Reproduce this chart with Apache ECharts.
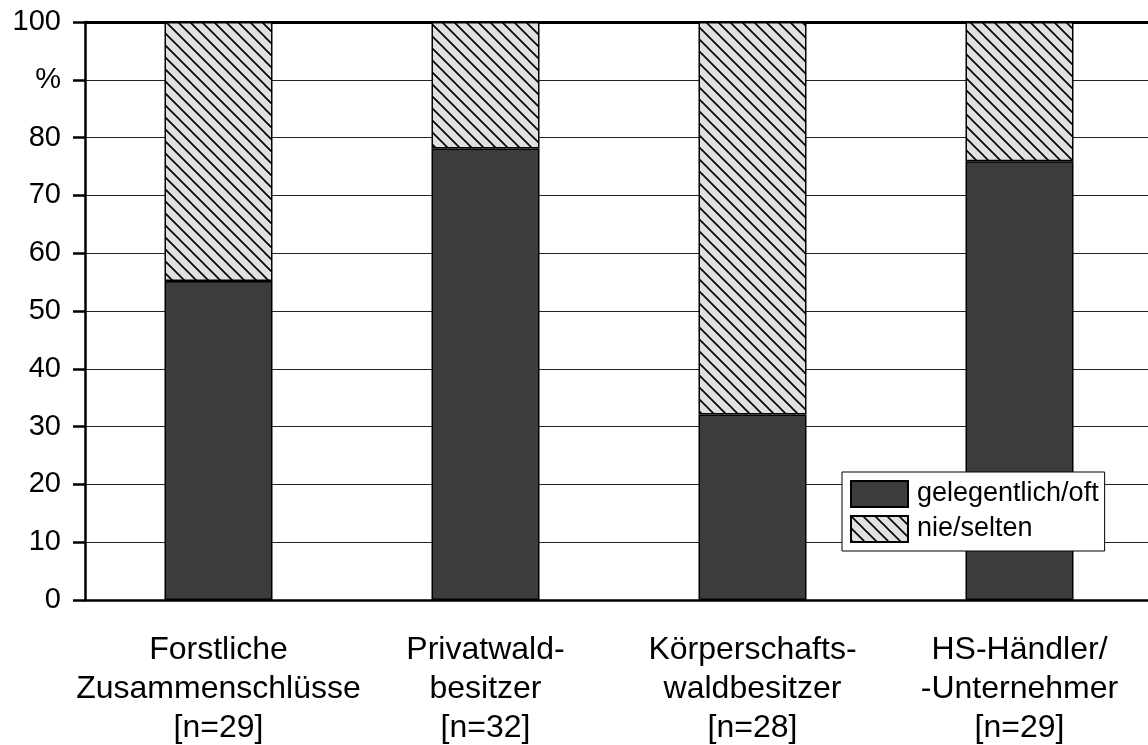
<!DOCTYPE html>
<html>
<head>
    <meta charset="utf-8">
    <title>Chart</title>
    <script src="https://cdn.jsdelivr.net/npm/echarts@6/dist/echarts.min.js"></script>
    <style>
        html, body { margin: 0; padding: 0; background: #fff; }
        #chart { width: 1148px; height: 745px; }
    </style>
</head>
<body>
<div id="chart"></div>
<script type="text/javascript">
    // Daten
    var categories = [
        'Forstliche\nZusammenschlüsse\n[n=29]',
        'Privatwald-\nbesitzer\n[n=32]',
        'Körperschafts-\nwaldbesitzer\n[n=28]',
        'HS-Händler/\n-Unternehmer\n[n=29]'
    ];
    var oftValues = [55.2, 78.1, 32.1, 75.9];
    var seltenValues = [44.8, 21.9, 67.9, 24.1];
    var seriesNames = ['gelegentlich/oft', 'nie/selten'];

    // Schraffur als Muster
    var pat = document.createElement('canvas');
    pat.width = 12;
    pat.height = 12;
    var ctx = pat.getContext('2d');
    ctx.fillStyle = '#e0e0e0';
    ctx.fillRect(0, 0, 12, 12);
    ctx.strokeStyle = '#000';
    ctx.lineWidth = 1.6;
    ctx.beginPath();
    ctx.moveTo(-2, -2); ctx.lineTo(14, 14);
    ctx.moveTo(-2, 10); ctx.lineTo(2, 14);
    ctx.moveTo(10, -2); ctx.lineTo(14, 2);
    ctx.stroke();

    var font = 'Liberation Sans, Arial, sans-serif';
    var myChart = echarts.init(document.getElementById('chart'));
    myChart.setOption({
        animation: false,
        grid: { left: 85, top: 22, width: 1068, height: 578, outerBoundsMode: 'none' },
        legend: {
            orient: 'vertical',
            left: 842,
            top: 472,
            icon: 'rect',
            itemWidth: 57,
            itemHeight: 26,
            itemGap: 7,
            padding: [8, 6, 8, 8],
            backgroundColor: '#fff',
            borderColor: '#000',
            borderWidth: 1,
            data: seriesNames,
            textStyle: { fontFamily: font, fontSize: 27, lineHeight: 26, color: '#000', padding: [0, 0, 0, 4] }
        },
        xAxis: [{
            type: 'category',
            data: categories,
            axisLine: { lineStyle: { color: '#000', width: 2.5 } },
            axisTick: { alignWithLabel: true, length: 12, lineStyle: { color: '#000', width: 2.5 } },
            axisLabel: { fontFamily: font, fontSize: 32, color: '#000', margin: 31, lineHeight: 39, interval: 0 }
        }, {
            type: 'category',
            position: 'top',
            data: categories,
            axisLine: { lineStyle: { color: '#000', width: 3 } },
            axisTick: { show: false },
            axisLabel: { show: false }
        }],
        yAxis: {
            type: 'value',
            min: 0,
            max: 100,
            interval: 10,
            axisLine: { show: true, lineStyle: { color: '#000', width: 2.5 } },
            axisTick: { show: true, length: 12, lineStyle: { color: '#000', width: 2.5 } },
            splitLine: { lineStyle: { color: '#222', width: 1 } },
            axisLabel: {
                fontFamily: font, fontSize: 29, color: '#000', margin: 24,
                formatter: function (v) { return v === 90 ? '%' : v; }
            }
        },
        series: [{
            name: seriesNames[0],
            type: 'bar',
            stack: 'a',
            barWidth: 108,
            data: oftValues,
            itemStyle: { color: '#3c3c3c', borderColor: '#000', borderWidth: 1.5 }
        }, {
            name: seriesNames[1],
            type: 'bar',
            stack: 'a',
            barWidth: 108,
            data: seltenValues,
            itemStyle: { color: { image: pat, repeat: 'repeat' }, borderColor: '#000', borderWidth: 1.5 }
        }]
    });
</script>
</body>
</html>
